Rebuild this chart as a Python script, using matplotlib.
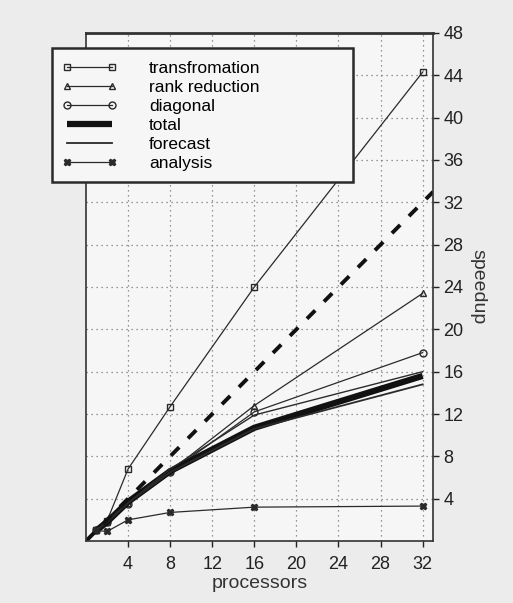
import matplotlib
matplotlib.use("Agg")
import matplotlib.pyplot as plt
from matplotlib.patches import Rectangle

plt.rcParams['font.family'] = ['Liberation Sans', 'DejaVu Sans']

# processors
procs = [1, 2, 4, 8, 16, 32]

# measured speedups
transformation = [1.0, 1.9, 6.8, 12.7, 24.0, 44.3]
rank_reduction = [1.0, 1.8, 3.6, 6.6, 12.8, 23.4]
diagonal = [1.0, 1.8, 3.5, 6.5, 12.2, 17.8]
total = [1.0, 1.8, 3.7, 6.6, 10.7, 15.6]
forecast = [1.0, 1.8, 3.6, 6.5, 10.6, 14.8]
forecast_rank = [1.0, 1.8, 3.6, 6.8, 11.9, 16.0]
analysis = [1.0, 0.9, 2.0, 2.7, 3.2, 3.3]

# ideal line
ideal_x = [0, 33]
ideal_y = [0, 33]

xticks = [4, 8, 12, 16, 20, 24, 28, 32]
yticks = [4, 8, 12, 16, 20, 24, 28, 32, 36, 40, 44, 48]

fig = plt.figure(figsize=(5.13, 6.03), dpi=100)
fig.patch.set_facecolor('#ececec')
ax = fig.add_axes([0.1676, 0.1028, 0.6768, 0.8425])
ax.set_facecolor('#f6f6f6')

c = '#2a2a2a'
ax.plot(procs, transformation, '-', color=c, lw=0.9, marker='s', ms=5,
        mfc='none', mec=c, mew=1, label='transfromation')
ax.plot(procs, rank_reduction, '-', color=c, lw=0.9, marker='^', ms=5,
        mfc='none', mec=c, mew=1, label='rank reduction')
ax.plot(procs, diagonal, '-', color=c, lw=0.9, marker='o', ms=5,
        mfc='none', mec=c, mew=1, label='diagonal')
ax.plot(procs, total, '-', color='#111111', lw=4.5, solid_capstyle='butt',
        label='total')
ax.plot(procs, forecast, '-', color=c, lw=1.3, label='forecast')
ax.plot(procs, forecast_rank, '-', color=c, lw=1.0)
ax.plot(procs, analysis, '-', color=c, lw=0.9, marker='X', ms=5,
        mfc=c, mec=c, label='analysis')
ax.plot(ideal_x, ideal_y, color='#111111', lw=2.8, dashes=(3, 3.2))

ax.set_xlim(0, 33)
ax.set_ylim(0, 48)
ax.set_xticks(xticks)
ax.set_yticks(yticks)
ax.grid(True, color='#777777', ls=(0, (1, 3)), lw=0.9)

ax.yaxis.tick_right()
ax.yaxis.set_label_position('right')
ax.tick_params(axis='both', labelsize=13, colors='#222222', length=4,
               direction='out', width=1)
ax.tick_params(axis='x', pad=7)
ax.set_xlabel('processors', fontsize=14, color='#333333', labelpad=1)
ax.set_ylabel('speedup', fontsize=14, color='#333333', rotation=270,
              labelpad=16)

for s in ['left', 'bottom', 'right', 'top']:
    ax.spines[s].set_color('#333333')
    ax.spines[s].set_linewidth(1.2)
ax.spines['top'].set_linewidth(2)

# legend box drawn separately so it can be wider than its text
box = Rectangle((0.1014, 0.698), 0.587, 0.222, transform=fig.transFigure,
                facecolor='#f6f6f6', edgecolor='#2a2a2a', lw=1.8,
                zorder=5, clip_on=False)
ax.add_patch(box)

leg = ax.legend(loc='upper left', bbox_to_anchor=(0.1209, 0.899),
                bbox_transform=fig.transFigure, handlelength=3.2,
                handletextpad=1.8, fontsize=12.5, labelspacing=0.22,
                frameon=False, borderpad=0, borderaxespad=0,
                numpoints=2)
leg.set_zorder(6)

fig.savefig('out.png', dpi=100, facecolor=fig.get_facecolor())
